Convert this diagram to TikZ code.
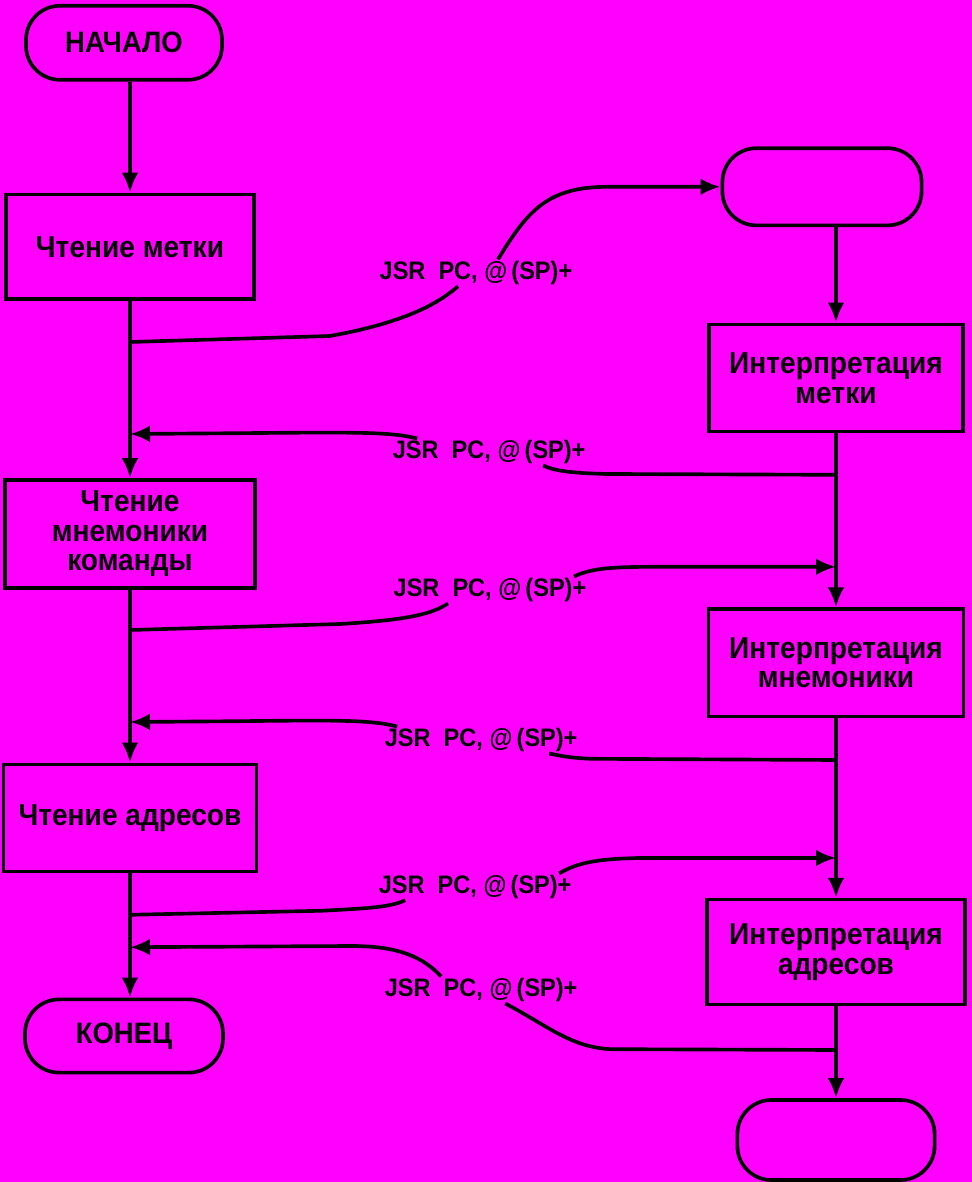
\documentclass[tikz,border=0pt]{standalone}
\usepackage{fontspec}
\setmainfont{Liberation Sans}
\newfontfamily\flowfont{Liberation Sans}[FakeStretch=0.93]
\usetikzlibrary{arrows.meta}
\definecolor{bg}{RGB}{255,0,255}
\newcommand{\arrtip}{Latex[length=5mm,width=4.2mm]}
\newcommand{\jsr}{JSR~ PC, @\,(SP)+}
\tikzset{
  box/.style={draw, line width=2.6pt, align=center, font=\flowfont\bfseries\fontsize{21.5}{21}\selectfont},
  term/.style={draw, line width=2.6pt, rounded corners=8.5mm, font=\flowfont\bfseries\fontsize{21}{22}\selectfont},
  lbl/.style={inner sep=1pt, font=\flowfont\bfseries\fontsize{18}{20}\selectfont},
  wire/.style={line width=2.6pt},
}
\begin{document}
\begin{tikzpicture}
  % General frame is (0,0) to (24.3, 29.55)
  \useasboundingbox (0,0) rectangle (24.3,29.55);
  \fill[bg] (0,0) rectangle (24.3,29.55);

  % main program
  \node[term, minimum width=4.9cm, minimum height=1.85cm] (start) at (3.1,28.48) {НАЧАЛО};
  \node[box, minimum width=6.2cm, minimum height=2.62cm] (readlab) at (3.25,23.38) {Чтение метки};
  \node[box, minimum width=6.25cm, minimum height=2.7cm] (readmn) at (3.25,16.2) {Чтение\\мнемоники\\команды};
  \node[box, minimum width=6.33cm, minimum height=2.68cm] (readadr) at (3.25,9.1) {Чтение адресов};
  \node[term, minimum width=4.95cm, minimum height=1.83cm] (stop) at (3.1,3.65) {КОНЕЦ};

  % coroutine
  \node[term, minimum width=4.98cm, minimum height=1.93cm] (rtop) at (20.55,24.88) {};
  \node[box, minimum width=6.35cm, minimum height=2.68cm] (intlab) at (20.9,20.1) {Интерпретация\\метки};
  \node[box, minimum width=6.38cm, minimum height=2.68cm] (intmn) at (20.9,12.98) {Интерпретация\\мнемоники};
  \node[box, minimum width=6.45cm, minimum height=2.62cm] (intadr) at (20.9,5.75) {Интерпретация\\адресов};
  \node[term, minimum width=4.93cm, minimum height=2.0cm] (rbot) at (20.9,1.05) {};

  % vertical flow
  \draw[wire, -\arrtip] (readlab.north |- start.south) -- (readlab.north);
  \draw[wire, -\arrtip] (readlab.south) -- (readmn.north);
  \draw[wire, -\arrtip] (readmn.south) -- (readadr.north);
  \draw[wire, -\arrtip] (readadr.south) -- (readadr.south |- stop.north);
  \draw[wire, -\arrtip] (intlab.north |- rtop.south) -- (intlab.north);
  \draw[wire, -\arrtip] (intlab.south) -- (intmn.north);
  \draw[wire, -\arrtip] (intmn.south) -- (intadr.north);
  \draw[wire, -\arrtip] (intadr.south) -- (rbot.north);

  % switch points on both trunks
  \coordinate (j1) at (3.25,21.0);
  \coordinate (a2) at (3.25,18.7);
  \coordinate (j3) at (3.25,13.8);
  \coordinate (a4) at (3.25,11.5);
  \coordinate (j5) at (3.25,6.68);
  \coordinate (a6) at (3.25,5.87);
  \coordinate (j2) at (20.9,17.68);
  \coordinate (a3) at (20.9,15.38);
  \coordinate (j4) at (20.9,10.55);
  \coordinate (a5) at (20.9,8.1);
  \coordinate (j6) at (20.9,3.3);

  % JSR labels
  \node[lbl] (lab1) at (11.9,22.73) {\jsr};
  \node[lbl] (lab2) at (12.23,18.25) {\jsr};
  \node[lbl] (lab3) at (12.25,14.8) {\jsr};
  \node[lbl] (lab4) at (12.03,11.05) {\jsr};
  \node[lbl] (lab5) at (11.88,7.38) {\jsr};
  \node[lbl] (lab6) at (12.03,4.8) {\jsr};

  % transfers of control
  \draw[wire] (j1) -- (8.25,21.15) .. controls (10.2,21.5) and (11.0,22.0) .. ([xshift=-0.45cm]lab1.south);
  \draw[wire, -\arrtip] ([xshift=0.55cm]lab1.north) .. controls (13.2,24.3) and (13.7,24.88) .. (15.2,24.88) -- (rtop.west);

  \draw[wire] (j2) -- (15.2,17.7) .. controls (14.2,17.72) and (13.8,17.8) .. ([xshift=1.35cm]lab2.south);
  \draw[wire, -\arrtip] ([xshift=-1.8cm]lab2.north) .. controls (9.8,18.75) and (9.0,18.75) .. (6.0,18.72) -- (a2);

  \draw[wire] (j3) -- (8.5,13.95) .. controls (10.2,14.05) and (10.8,14.2) .. ([xshift=-1.05cm]lab3.south);
  \draw[wire, -\arrtip] ([xshift=2.1cm]lab3.north) .. controls (14.8,15.35) and (15.3,15.38) .. (16.5,15.38) -- (a3);

  \draw[wire] (j4) -- (14.8,10.58) .. controls (14.2,10.6) and (13.9,10.68) .. ([xshift=1.7cm]lab4.south);
  \draw[wire, -\arrtip] ([xshift=-2.1cm]lab4.north) .. controls (9.3,11.55) and (8.5,11.55) .. (6.0,11.52) -- (a4);

  \draw[wire] (j5) -- (8.0,6.78) .. controls (9.5,6.85) and (9.8,6.9) .. ([xshift=-1.75cm]lab5.south);
  \draw[wire, -\arrtip] ([xshift=2.1cm]lab5.north) .. controls (14.4,7.95) and (14.8,8.08) .. (16.0,8.1) -- (a5);

  \draw[wire] (j6) -- (15.3,3.32) .. controls (14.3,3.35) and (13.7,3.9) .. ([xshift=0.6cm]lab6.south);
  \draw[wire, -\arrtip] ([xshift=-1.0cm]lab6.north) .. controls (10.6,5.6) and (10.0,5.9) .. (8.8,5.9) -- (a6);

\end{tikzpicture}
\end{document}
